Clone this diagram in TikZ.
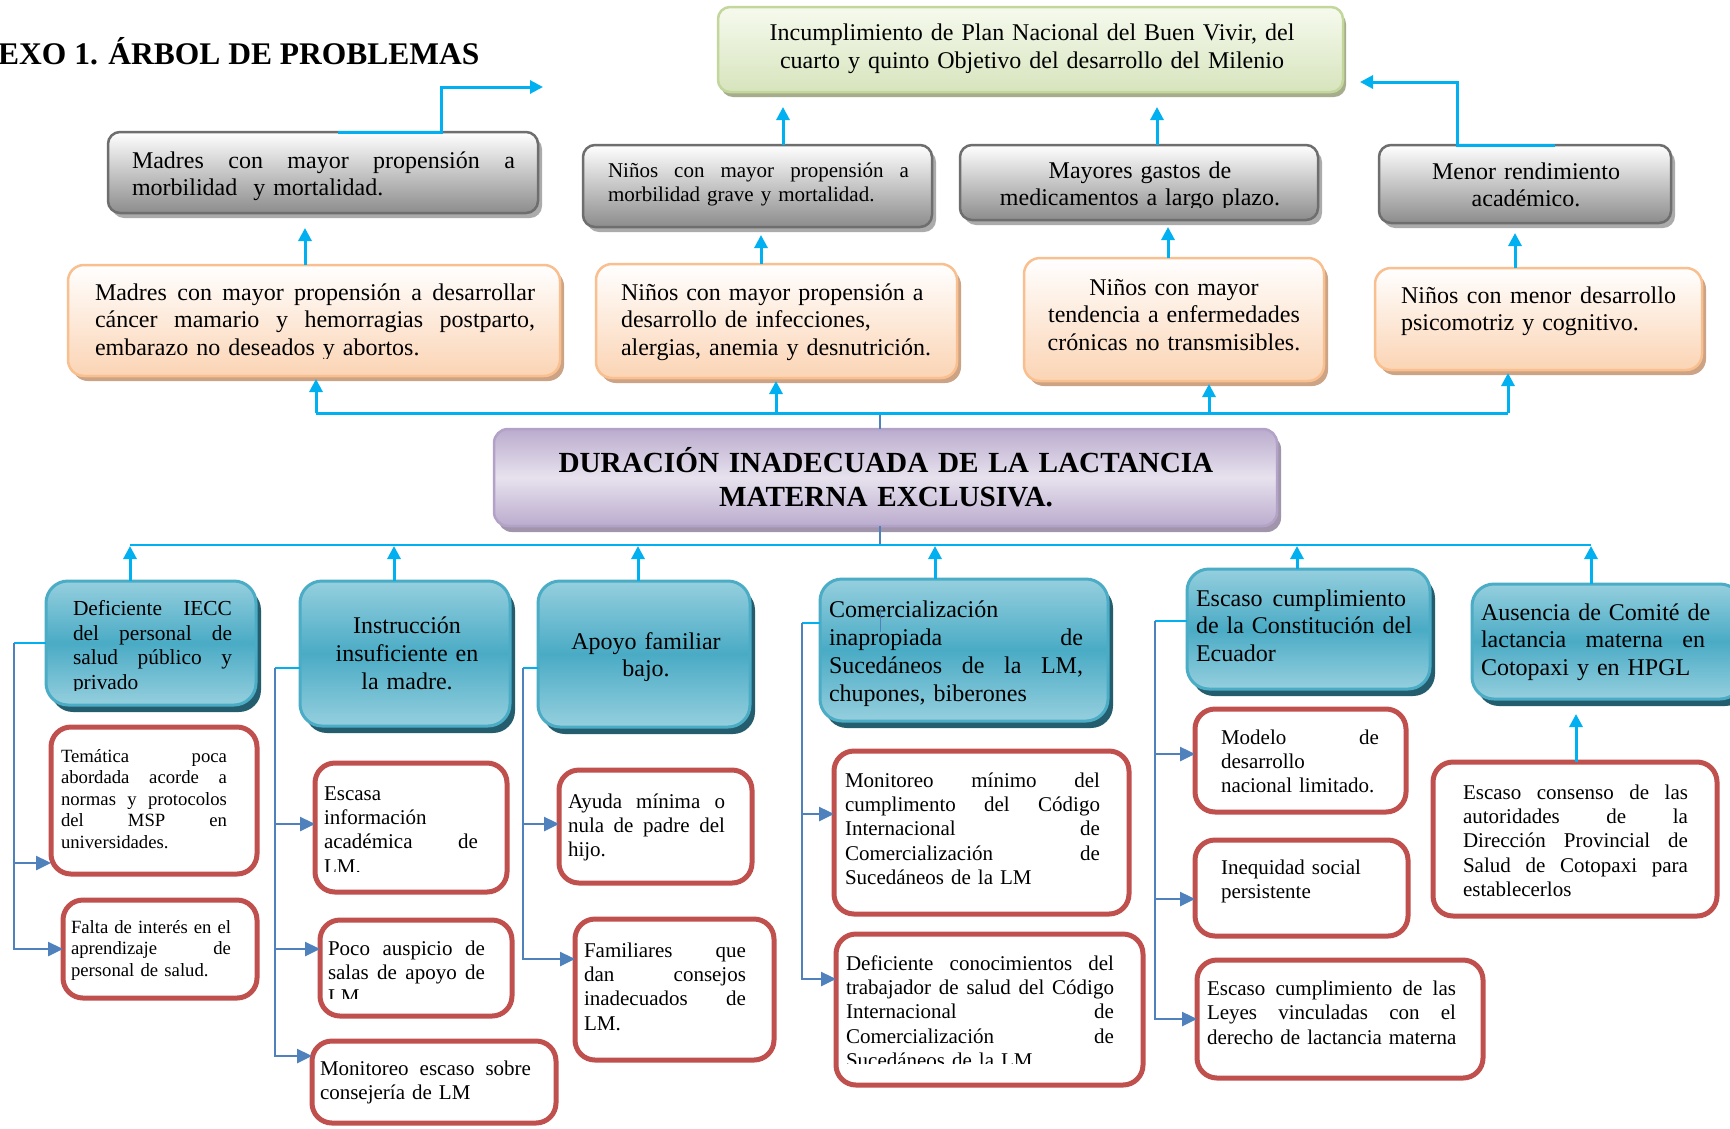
\documentclass[tikz,border=0pt]{standalone}
\usepackage{fontspec}
\setmainfont{Liberation Serif}
\usetikzlibrary{arrows.meta,shadows,fit,calc}

\definecolor{cyanline}{HTML}{00B0F0}
\definecolor{steel}{HTML}{4F81BD}
\definecolor{grayedge}{HTML}{6E6E6E}
\definecolor{graylow}{HTML}{8C8C8C}
\definecolor{grayshadow}{HTML}{ABABAB}
\definecolor{greenedge}{HTML}{C3D69B}
\definecolor{greentop}{HTML}{F6FAEE}
\definecolor{greenlow}{HTML}{D7E4BD}
\definecolor{greenshadow}{HTML}{A6AD8D}
\definecolor{orangeedge}{HTML}{F9BF8F}
\definecolor{orangelow}{HTML}{FBD4B4}
\definecolor{orangeshadow}{HTML}{CCA385}
\definecolor{purpleedge}{HTML}{B3A2C7}
\definecolor{purpledark}{HTML}{AE9CC4}
\definecolor{purplelight}{HTML}{E7E2EE}
\definecolor{purpleshadow}{HTML}{A095AA}
\definecolor{tealedge}{HTML}{4BACC6}
\definecolor{teallight}{HTML}{95CFDE}
\definecolor{tealmid}{HTML}{4AABC5}
\definecolor{tealshadow}{HTML}{245E6E}
\definecolor{rededge}{HTML}{C0504D}

% one justified line: inter-word spaces stretched to the full text width
\newcommand\JL[1]{\leavevmode\hbox to \hsize{\spaceskip=0.25em plus 20em\xspaceskip=0pt\relax #1}}

\begin{document}
\begin{tikzpicture}[x=1pt,y=-1pt,
  box/.style={inner sep=0pt, outer sep=0pt},
  greenbox/.style={box, draw=greenedge, line width=2.5pt, rounded corners=12pt,
    top color=greentop, bottom color=greenlow,
    drop shadow={fill=greenshadow, opacity=1, shadow xshift=3pt, shadow yshift=-5pt}},
  graybox/.style={box, draw=grayedge, line width=2.5pt, rounded corners=12pt,
    top color=white, bottom color=graylow,
    drop shadow={fill=grayshadow, opacity=1, shadow xshift=4pt, shadow yshift=-5pt}},
  orangebox/.style={box, draw=orangeedge, line width=2.5pt, rounded corners=16pt,
    top color=white, bottom color=orangelow,
    drop shadow={fill=orangeshadow, opacity=1, shadow xshift=4pt, shadow yshift=-5pt}},
  purplebox/.style={box, draw=purpleedge, line width=2.5pt, rounded corners=14pt,
    fill=purplelight,
    drop shadow={fill=purpleshadow, opacity=1, shadow xshift=4pt, shadow yshift=-6pt},
    path picture={\shade[top color=purpledark, bottom color=purpledark, middle color=purplelight,
      rotate around={-7.5:(path picture bounding box.center)}]
      ($(path picture bounding box.center)+(-470pt,-62pt)$) rectangle
      ($(path picture bounding box.center)+(470pt,62pt)$);}},
  tealbox/.style={box, draw=tealedge, line width=3pt, rounded corners=22pt,
    top color=teallight, bottom color=teallight, middle color=tealmid,
    drop shadow={fill=tealshadow, opacity=1, shadow xshift=5pt, shadow yshift=-7pt}},
  redbox/.style={box, draw=rededge, line width=5pt, rounded corners=20pt, fill=white},
  tx/.style={inner sep=0pt, outer sep=0pt, align=left, anchor=base west},
  tc/.style={inner sep=0pt, outer sep=0pt, align=center, anchor=base},
  f24/.style={font=\fontsize{24}{27.6}\selectfont},
  f21/.style={font=\fontsize{21}{24.4}\selectfont},
  f19/.style={font=\fontsize{18.7}{21.5}\selectfont},
  cyarrow/.style={draw=cyanline, line width=3pt, -{Triangle[length=13pt,width=13pt]}},
  cyline/.style={draw=cyanline, line width=3pt},
  cythin/.style={draw=cyanline, line width=1.6pt},
  starrow/.style={draw=steel, line width=2.5pt, -{Triangle[length=15pt,width=14pt]}},
  stline/.style={draw=steel, line width=2pt}
]
\fill[white] (0,0) rectangle (1730,1128);
\useasboundingbox (0,0) rectangle (1730,1128);

% ---------- title ----------
\node[inner sep=0pt, anchor=base west, font=\bfseries\fontsize{31.5}{36}\selectfont] (title) at (-2,64) {EXO 1. ÁRBOL DE PROBLEMAS};

% ---------- boxes ----------
\node[greenbox, fit={(718,7) (1343,92)}] (V) {};
\node[graybox, fit={(108,132) (538,213)}] (G1) {};
\node[graybox, fit={(583,145) (932,227)}] (G2) {};
\node[graybox, fit={(960,145) (1318,220)}] (G3) {};
\node[graybox, fit={(1379,145) (1671,223)}] (G4) {};
\node[orangebox, fit={(68,265) (560,376)}] (O1) {};
\node[orangebox, fit={(596,264) (957,378)}] (O2) {};
\node[orangebox, fit={(1024,258) (1324,381)}] (O3) {};
\node[orangebox, fit={(1375,268) (1702,370)}] (O4) {};
\node[purplebox, fit={(494,429) (1277,526)}] (P) {};
\node[tealbox, fit={(46,581) (256,705)}] (T1) {};
\node[tealbox, fit={(300,581) (510,726)}] (T2) {};
\node[tealbox, fit={(538,581) (750,727)}] (T3) {};
\node[tealbox, fit={(820,579) (1108,721)}] (T4) {};
\node[tealbox, fit={(1187,569) (1430,689)}] (T5) {};
\node[tealbox, fit={(1472,584) (1742,699)}] (T6) {};
\node[redbox, fit={(51,727) (257,874)}] (R1a) {};
\node[redbox, fit={(63,900) (257,998)}] (R1b) {};
\node[redbox, fit={(315,763) (507,892)}] (R2a) {};
\node[redbox, fit={(320,920) (512,1016)}] (R2b) {};
\node[redbox, fit={(312,1041) (556,1123)}] (R2c) {};
\node[redbox, fit={(559,770) (752,883)}] (R3a) {};
\node[redbox, fit={(575,919) (774,1060)}] (R3b) {};
\node[redbox, fit={(834,751) (1129,914)}] (R4a) {};
\node[redbox, fit={(836,934) (1143,1085)}] (R4b) {};
\node[redbox, fit={(1195,709) (1406,812)}] (R5a) {};
\node[redbox, fit={(1195,840) (1408,936)}] (R5b) {};
\node[redbox, fit={(1197,960) (1483,1078)}] (R5c) {};
\node[redbox, fit={(1433,762) (1717,916)}] (R6a) {};

% ---------- texts ----------
\node[tc, font=\fontsize{24}{28.5}\selectfont, text width=620pt] (tV) at (1032,40)
  {Incumplimiento de Plan Nacional del Buen Vivir, del\\cuarto y quinto Objetivo del desarrollo del Milenio};
\node[tx, f24, text width=383pt] (tG1) at (132,168) {\JL{Madres con mayor propensión a}\\morbilidad\ \ y mortalidad.};
\node[tx, f21, text width=301pt] (tG2) at (608,177) {\JL{Niños con mayor propensión a}\\morbilidad grave y mortalidad.};
\begin{scope}
  \clip (960,140) rectangle (1320,207);
  \node[tc, f24, text width=350pt] (tG3) at (1140,178) {Mayores gastos de\\medicamentos a largo plazo.};
\end{scope}
\node[tc, f24, text width=290pt] (tG4) at (1526,179) {Menor rendimiento\\académico.};

\begin{scope}
  \clip (68,260) rectangle (560,358);
  \node[tx, f24, text width=440pt] (tO1) at (95,300)
    {\JL{Madres con mayor propensión a desarrollar}\\\JL{cáncer mamario y hemorragias postparto,}\\embarazo no deseados y abortos.};
\end{scope}
\node[tx, f24, text width=340pt] (tO2) at (621,300) {Niños con mayor propensión a\\desarrollo de infecciones,\\alergias, anemia y desnutrición.};
\node[tc, f24, text width=300pt] (tO3) at (1174,295) {Niños con mayor\\tendencia a enfermedades\\crónicas no transmisibles.};
\node[tx, f24, text width=275pt] (tO4) at (1401,303) {\JL{Niños con menor desarrollo}\\psicomotriz y cognitivo.};

\node[tc, font=\bfseries\fontsize{29.2}{34}\selectfont, text width=770pt] (tP) at (886,472)
  {DURACIÓN INADECUADA DE LA LACTANCIA\\MATERNA EXCLUSIVA.};

\begin{scope}
  \clip (46,581) rectangle (256,690);
  \node[tx, font=\fontsize{21.4}{24.6}\selectfont, text width=159pt] (tT1) at (73,615.5)
    {\JL{Deficiente IECC}\\\JL{del personal de}\\\JL{salud público y}\\privado};
\end{scope}
\node[tc, font=\fontsize{24}{28}\selectfont, text width=210pt] (tT2) at (407,633) {Instrucción\\insuficiente en\\la madre.};
\node[tc, f24, text width=210pt] (tT3) at (646,649) {Apoyo familiar\\bajo.};
\node[tx, font=\fontsize{24}{28}\selectfont, text width=254pt] (tT4) at (829,617)
  {Comercialización\\\JL{inapropiada de}\\\JL{Sucedáneos de la LM,}\\chupones, biberones};
\node[tx, f24, text width=210pt] (tT5) at (1196,606) {\JL{Escaso cumplimiento}\\\mbox{de la Constitución del}\\Ecuador};
\node[tx, f24, text width=224pt] (tT6) at (1481,620) {\mbox{Ausencia de Comité de}\\\JL{lactancia materna en}\\Cotopaxi y en HPGL};

\node[tx, f19, text width=166pt] (tR1a) at (61,762)
  {\JL{Temática poca}\\\JL{abordada acorde a}\\\JL{normas y protocolos}\\\JL{del MSP en}\\universidades.};
\node[tx, f19, text width=160pt] (tR1b) at (71,933)
  {\JL{Falta de interés en el}\\\JL{aprendizaje de}\\personal de salud.};
\begin{scope}
  \clip (315,763) rectangle (507,871);
  \node[tx, f21, text width=154pt] (tR2a) at (324,800) {Escasa\\información\\\JL{académica de}\\LM.};
\end{scope}
\begin{scope}
  \clip (320,920) rectangle (512,998);
  \node[tx, f21, text width=157pt] (tR2b) at (328,955) {\JL{Poco auspicio de}\\\JL{salas de apoyo de}\\LM};
\end{scope}
\node[tx, f21, text width=211pt] (tR2c) at (320,1075) {\JL{Monitoreo escaso sobre}\\consejería de LM};
\node[tx, f21, text width=157pt] (tR3a) at (568,808) {\JL{Ayuda mínima o}\\\JL{nula de padre del}\\hijo.};
\node[tx, f21, text width=162pt] (tR3b) at (584,957) {\JL{Familiares que}\\\JL{dan consejos}\\\JL{inadecuados de}\\LM.};
\node[tx, f21, text width=255pt] (tR4a) at (845,787)
  {\JL{Monitoreo mínimo del}\\\JL{cumplimento del Código}\\\JL{Internacional de}\\\JL{Comercialización de}\\Sucedáneos de la LM};
\begin{scope}
  \clip (836,934) rectangle (1143,1063);
  \node[tx, f21, text width=268pt] (tR4b) at (846,970)
    {\JL{Deficiente conocimientos del}\\\JL{trabajador de salud del Código}\\\JL{Internacional de}\\\JL{Comercialización de}\\Sucedáneos de la LM};
\end{scope}
\node[tx, f21, text width=158pt] (tR5a) at (1221,744) {\JL{Modelo de}\\desarrollo\\nacional limitado.};
\node[tx, f21, text width=170pt] (tR5b) at (1221,874) {Inequidad social\\persistente};
\node[tx, f21, text width=249pt] (tR5c) at (1207,995.5)
  {\JL{Escaso cumplimiento de las}\\\JL{Leyes vinculadas con el}\\\mbox{derecho de lactancia materna}};
\begin{scope}
  \clip (1433,762) rectangle (1717,897);
  \node[tx, f21, text width=225pt] (tR6a) at (1463,799)
    {\JL{Escaso consenso de las}\\\JL{autoridades de la}\\\JL{Dirección Provincial de}\\\JL{Salud de Cotopaxi para}\\establecerlos};
\end{scope}

% ---------- effects: upward connectors ----------
\coordinate (g1end) at (543,87);
\coordinate (g4end) at ($(V.east |- 0,82)+(17,0)$);
\draw[cyarrow] (G1.north -| 338,0) -| (441,87) -- (g1end);
\draw[cyarrow] (G4.north -| 1555,0) -| (1457,82) -- (g4end);
\draw[cyarrow] (G2.north -| 783,0) -- ($(V.south -| 783,0)+(0,15)$);
\draw[cyarrow] (G3.north -| 1157,0) -- ($(V.south -| 1157,0)+(0,15)$);
\draw[cyarrow] (O1.north -| 305,0) -- ($(G1.south -| 305,0)+(0,15)$);
\draw[cyarrow] (O2.north -| 761,0) -- ($(G2.south -| 761,0)+(0,8)$);
\draw[cyarrow] (O3.north -| 1168,0) -- ($(G3.south -| 1168,0)+(0,7)$);
\draw[cyarrow] (O4.north -| 1515,0) -- ($(G4.south -| 1515,0)+(0,10)$);

% central problem to effects
\coordinate (hubT) at (880,413);
\draw[stline] (P.north -| hubT) -- (hubT);
\draw[cyline] (316,413) -- (1508,413);
\draw[cyarrow] (316,413) -- ($(O1.south -| 316,0)+(0,3)$);
\draw[cyarrow] (776,413) -- ($(O2.south -| 776,0)+(0,3)$);
\draw[cyarrow] (1209,413) -- ($(O3.south -| 1209,0)+(0,3)$);
\draw[cyarrow] (1508,413) -- ($(O4.south -| 1508,0)+(0,3)$);

% causes to central problem
\coordinate (hubB) at (880,545);
\draw[stline] (P.south -| hubB) -- (hubB);
\draw[cythin] (130,545) -- (1591,545);
\draw[cyarrow] (T1.north -| 130,0) -- (130,546);
\draw[cyarrow] (T2.north -| 394,0) -- (394,546);
\draw[cyarrow] (T3.north -| 638,0) -- (638,546);
\draw[cyarrow] (T4.north -| 935,0) -- (935,546);
\draw[cyarrow] (T5.north -| 1297,0) -- (1297,546);
\draw[cyarrow] (T6.north -| 1591,0) -- (1591,546);
\draw[steel, line width=1pt] (880,609) -- (880,632);

% ---------- sub-causes ----------
\coordinate (k1) at (14,643);
\draw[cyline, line width=2.5pt] (T1.west |- k1) -- (k1);
\draw[starrow] (k1) |- (R1a.west |- 0,863);
\draw[starrow] (k1) |- (R1b.west |- 0,949);

\coordinate (k2) at (275,668);
\draw[cyline, line width=2.5pt] (T2.west |- k2) -- (k2);
\draw[starrow] (k2) |- (R2a.west |- 0,824);
\draw[starrow] (k2) |- (R2b.west |- 0,949);
\draw[starrow] (k2) |- (R2c.west |- 0,1056);

\coordinate (k3) at (523,668);
\draw[cyline, line width=2.5pt] (T3.west |- k3) -- (k3);
\draw[starrow] (k3) |- (R3a.west |- 0,824);
\draw[starrow] (k3) |- (R3b.west |- 0,959);

\coordinate (k4) at (802,623);
\draw[cyline, line width=2.5pt] (T4.west |- k4) -- (k4);
\draw[starrow] (k4) |- (R4a.west |- 0,814);
\draw[starrow] (k4) |- (R4b.west |- 0,979);

\coordinate (k5) at (1155,621);
\draw[cyline, line width=2.5pt] (T5.west |- k5) -- (k5);
\draw[starrow] (k5) |- (R5a.west |- 0,754);
\draw[starrow] (k5) |- (R5b.west |- 0,899);
\draw[starrow] (k5) |- (R5c.west |- 0,1019);

\draw[cyarrow] (R6a.north -| 1576,0) -- ($(T6.south -| 1576,0)+(0,15)$);
\end{tikzpicture}
\end{document}
